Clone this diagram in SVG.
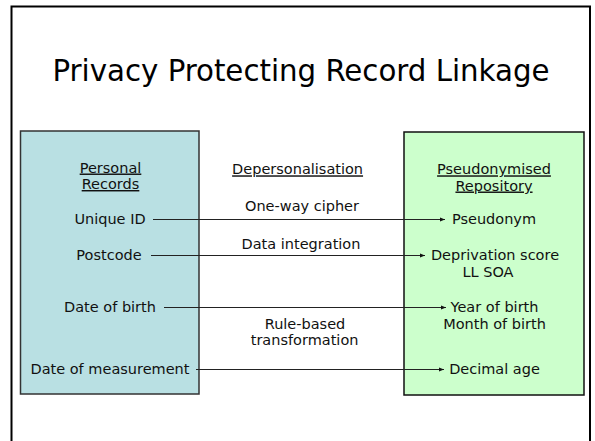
<svg xmlns="http://www.w3.org/2000/svg" width="595" height="441" viewBox="0 0 595 441">
<style>
.t{font-family:"DejaVu Sans","Verdana",sans-serif;font-size:14.5px;fill:#111;text-anchor:middle}
.u{text-decoration:underline}
.c{stroke:#222;stroke-width:1;fill:none;marker-end:url(#ah)}
</style>
<defs>
<marker id="ah" viewBox="0 0 10 10" refX="10" refY="5" markerWidth="5" markerHeight="5" markerUnits="userSpaceOnUse" orient="auto">
<path d="M0,1 L10,5 L0,9 z" fill="#111"/>
</marker>
</defs>
<rect width="595" height="441" fill="#fff"/>
<path d="M11.5,445 V6.5 H590 V445" fill="none" stroke="#000" stroke-width="2"/>
<text x="301" y="81" font-family="DejaVu Sans Condensed, DejaVu Sans, sans-serif" font-size="30" text-anchor="middle" fill="#000" textLength="497" lengthAdjust="spacingAndGlyphs">Privacy Protecting Record Linkage</text>
<g id="personal">
<rect x="20.5" y="131" width="178.5" height="263" fill="#B9E0E3" stroke="#333" stroke-width="1.5"/>
<text class="t u" x="110.5" y="172.5">Personal</text>
<text class="t u" x="110.5" y="189">Records</text>
<text class="t" x="110" y="224">Unique ID</text>
<text class="t" x="109" y="260">Postcode</text>
<text class="t" x="110" y="311.7">Date of birth</text>
<text class="t" x="110" y="374">Date of measurement</text>
</g>
<g id="repository">
<rect x="404" y="132" width="180" height="263" fill="#CCFFCC" stroke="#111" stroke-width="1.5"/>
<text class="t u" x="494" y="174.3">Pseudonymised</text>
<text class="t u" x="494" y="190.5">Repository</text>
<text class="t" x="494" y="224">Pseudonym</text>
<text class="t" x="495" y="260">Deprivation score</text>
<text class="t" x="488" y="277">LL SOA</text>
<text class="t" x="494.5" y="311.7">Year of birth</text>
<text class="t" x="494.5" y="329">Month of birth</text>
<text class="t" x="494.5" y="374">Decimal age</text>
</g>
<g id="labels">
<text class="t u" x="297.6" y="174.3">Depersonalisation</text>
<text class="t" x="302" y="211">One-way cipher</text>
<text class="t" x="301" y="249">Data integration</text>
<text class="t" x="305" y="328.5">Rule-based</text>
<text class="t" x="304.6" y="345">transformation</text>
</g>
<g id="connectors">
<line class="c" x1="153" y1="219.5" x2="445" y2="219.5"/>
<line class="c" x1="151" y1="255.5" x2="425" y2="255.5"/>
<line class="c" x1="164" y1="307.5" x2="446" y2="307.5"/>
<line class="c" x1="196" y1="369.5" x2="444" y2="369.5"/>
</g>
</svg>
